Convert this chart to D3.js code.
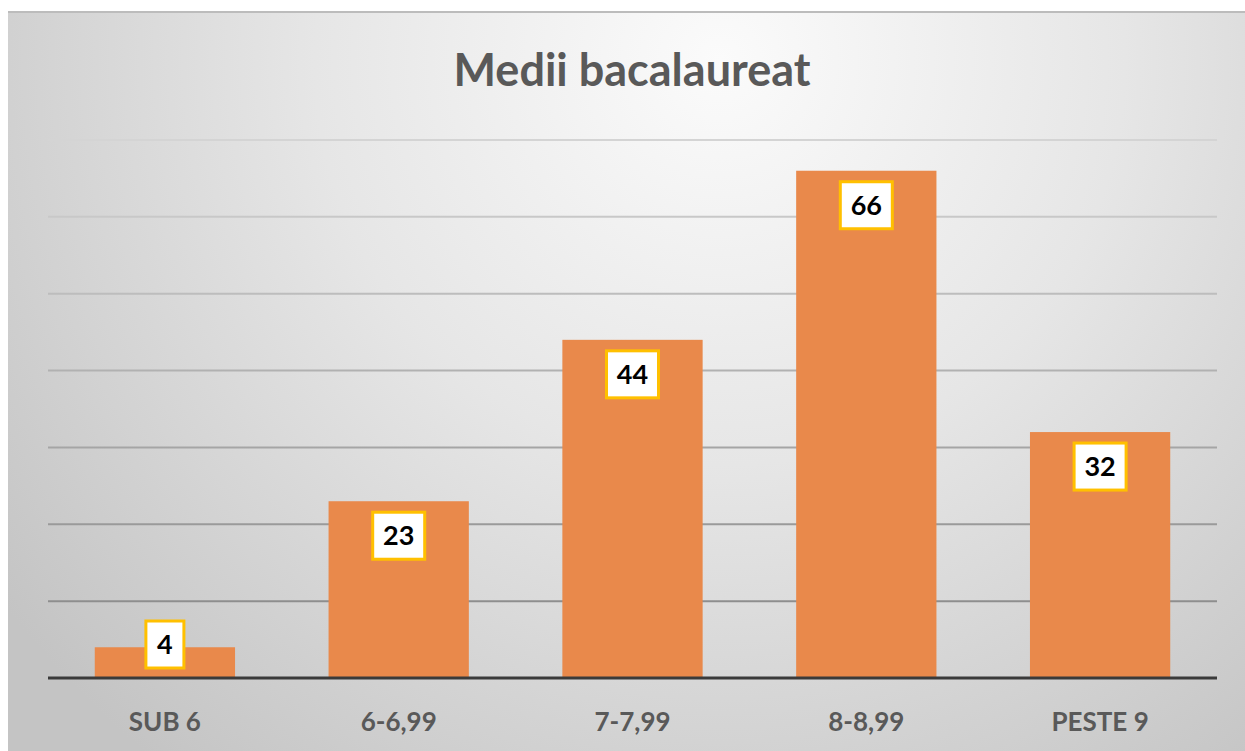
<!DOCTYPE html>
<html>
<head>
<meta charset="utf-8">
<script src="https://cdn.jsdelivr.net/npm/d3@7"></script>
<style>
  body { margin: 0; background: #fff; }
  svg { display: block; }
</style>
</head>
<body>
<div class="chart"></div>
<script>
// data
const categories = ["SUB 6", "6-6,99", "7-7,99", "8-8,99", "PESTE 9"];
const values = [4, 23, 44, 66, 32];
const gridTicks = [10, 20, 30, 40, 50, 60, 70];

const W = 1245, H = 751;
const plot = { left: 48, right: 1217, top: 140, bottom: 678 };

const svg = d3.select(".chart").append("svg")
  .attr("width", W)
  .attr("height", H);

// background gradient
const defs = svg.append("defs");
const bg = defs.append("radialGradient")
  .attr("id", "bg")
  .attr("gradientUnits", "userSpaceOnUse")
  .attr("cx", 720).attr("cy", 60).attr("r", 900)
  .attr("fx", 720).attr("fy", 60);
bg.append("stop").attr("offset", "0%").attr("stop-color", "#fbfbfb");
bg.append("stop").attr("offset", "45%").attr("stop-color", "#e6e6e6");
bg.append("stop").attr("offset", "100%").attr("stop-color", "#c4c4c4");

svg.append("rect")
  .attr("x", 8).attr("y", 11)
  .attr("width", W - 8).attr("height", H - 11)
  .attr("fill", "url(#bg)");
svg.append("line")
  .attr("x1", 8).attr("x2", W)
  .attr("y1", 12).attr("y2", 12)
  .attr("stroke", "#bcbcbc").attr("stroke-width", 2);

// scales
const x = d3.scaleBand()
  .domain(categories)
  .range([plot.left, plot.right])
  .paddingInner(0.4)
  .paddingOuter(0.2);

const y = d3.scaleLinear()
  .domain([0, 70])
  .range([plot.bottom, plot.top]);

// gridlines (lighter near the top)
const gridColor = d3.scaleLinear().domain([10, 70]).range(["#8e8e8e", "#d4d4d4"]);
svg.append("g")
  .selectAll("line")
  .data(gridTicks)
  .enter()
  .append("line")
  .attr("x1", plot.left)
  .attr("x2", plot.right)
  .attr("y1", d => y(d))
  .attr("y2", d => y(d))
  .attr("stroke", d => gridColor(d))
  .attr("stroke-width", 2);

// bars
svg.append("g")
  .selectAll("rect")
  .data(values)
  .enter()
  .append("rect")
  .attr("x", (d, i) => x(categories[i]))
  .attr("y", d => y(d))
  .attr("width", x.bandwidth())
  .attr("height", d => y(0) - y(d))
  .attr("fill", "#e9894b");

// x axis line
svg.append("line")
  .attr("x1", plot.left)
  .attr("x2", plot.right)
  .attr("y1", y(0))
  .attr("y2", y(0))
  .attr("stroke", "#3a3a3a")
  .attr("stroke-width", 3);

// category labels
svg.append("g")
  .selectAll("text")
  .data(categories)
  .enter()
  .append("text")
  .attr("x", d => x(d) + x.bandwidth() / 2)
  .attr("y", 731)
  .attr("text-anchor", "middle")
  .style("font-family", "Lato, 'Open Sans', sans-serif")
  .style("font-weight", "bold")
  .style("font-size", "26px")
  .style("fill", "#595959")
  .text(d => d);

// value labels in boxes
const boxH = 47;
const labels = svg.append("g")
  .selectAll("g")
  .data(values)
  .enter()
  .append("g")
  .attr("transform", (d, i) => {
    const cx = x(categories[i]) + x.bandwidth() / 2;
    let top = y(d) + 11;
    if (y(0) - y(d) < boxH + 20) top = y(0) - 10 - boxH;
    return "translate(" + cx + "," + top + ")";
  });

labels.append("rect")
  .attr("x", d => -(String(d).length > 1 ? 26 : 19))
  .attr("y", 0)
  .attr("width", d => (String(d).length > 1 ? 52 : 38))
  .attr("height", boxH)
  .attr("fill", "#ffffff")
  .attr("stroke", "#ffc000")
  .attr("stroke-width", 3);

labels.append("text")
  .attr("x", 0)
  .attr("y", boxH / 2 + 9.5)
  .attr("text-anchor", "middle")
  .style("font-family", "Lato, 'Open Sans', sans-serif")
  .style("font-weight", "bold")
  .style("font-size", "27px")
  .style("fill", "#000")
  .text(d => d);

// title
svg.append("text")
  .attr("x", 632)
  .attr("y", 86)
  .attr("text-anchor", "middle")
  .style("font-family", "Lato, 'Open Sans', sans-serif")
  .style("font-weight", "bold")
  .style("font-size", "45px")
  .style("fill", "#595959")
  .text("Medii bacalaureat");
</script>
</body>
</html>
